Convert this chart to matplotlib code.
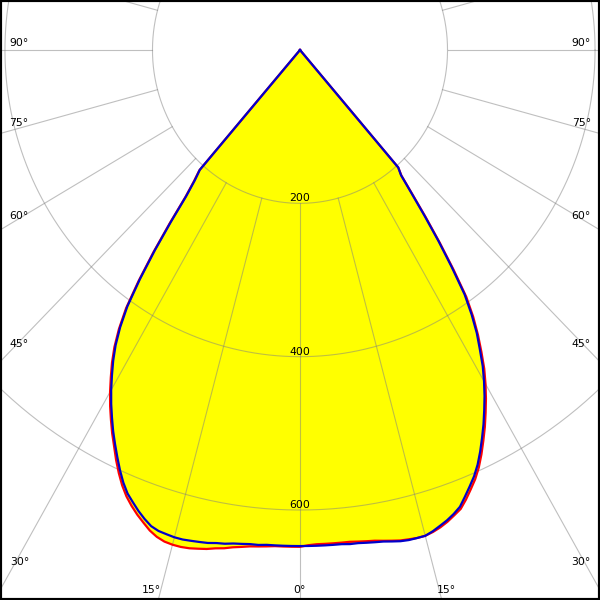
import numpy as np
import matplotlib
matplotlib.use('Agg')
import matplotlib.pyplot as plt

# polar light distribution, intensities in cd, angle measured from straight down
angles = [0, 1, 2, 3, 4, 5, 6, 7, 8, 9, 10, 11, 12, 13, 14, 15, 16, 17, 18, 19, 20,
          21, 22, 23, 24, 25, 26, 27, 28, 29, 30, 31, 32, 33, 34, 35, 36, 37, 38, 39,
          40, 41, 42]

# C0 - C180 plane (red)
c180 = [648, 648, 648, 648, 649, 650, 651, 653, 655, 658, 660, 663, 665, 667, 668, 668,
        667, 664, 659, 652, 645, 637, 628, 617, 604, 590, 575, 561, 546, 531, 515, 498,
        481, 462, 439, 411, 372, 330, 287, 247, 224, 208, 0]
c0 = [646, 646, 645, 645, 645, 645, 645, 646, 647, 648, 650, 652, 654, 655, 656, 656,
      654, 651, 647, 642, 637, 628, 618, 608, 596, 582, 567, 552, 536, 520, 503, 485,
      464, 443, 420, 393, 354, 315, 277, 242, 214, 203, 0]

# C90 - C270 plane (blue)
c270 = [647, 647, 647, 647, 647, 648, 648, 649, 650, 652, 653, 655, 656, 657, 658, 658,
        657, 656, 653, 647, 640, 632, 624, 613, 600, 586, 572, 558, 543, 528, 512, 495,
        478, 459, 436, 408, 369, 327, 284, 245, 222, 207, 0]
c90 = [647, 647, 647, 647, 647, 647, 648, 648, 649, 650, 651, 653, 655, 656, 656, 656,
       653, 649, 645, 640, 634, 624, 614, 604, 592, 578, 563, 548, 532, 516, 499, 481,
       460, 440, 416, 389, 350, 312, 274, 240, 213, 203, 0]

rings = [200, 400, 600]
ray_angles = [0, 15, 30, 45, 60, 75, 90, 105, 120, 135, 150, 165, 180,
              195, 210, 225, 240, 255, 270, 285, 300, 315, 330, 345]

# angle labels: text, pixel x, pixel baseline y, alignment
angle_labels = [('90°', 9, 46, 'left'), ('75°', 9, 126, 'left'), ('60°', 9, 219, 'left'),
                ('45°', 9, 347, 'left'), ('30°', 10, 565, 'left'),
                ('90°', 591, 46, 'right'), ('75°', 591, 126, 'right'), ('60°', 591, 219, 'right'),
                ('45°', 591, 347, 'right'), ('30°', 590, 565, 'right'),
                ('15°', 161, 593, 'right'), ('0°', 299, 593, 'center'), ('15°', 437, 593, 'left')]

# pixels per cd (the original is slightly squeezed horizontally)
sx = 0.7376
sy = 0.7667
cx, cy = 300, 50


def outline(left, right):
    th = np.radians(angles)
    left = np.array(left, dtype=float)
    right = np.array(right, dtype=float)
    xl = -left * np.sin(th)
    yl = -left * np.cos(th)
    xr = right * np.sin(th)
    yr = -right * np.cos(th)
    x = np.concatenate([xl[::-1], xr[1:]])
    y = np.concatenate([yl[::-1], yr[1:]])
    return x, y


fig = plt.figure(figsize=(6, 6), dpi=100)
ax = fig.add_axes([0, 0, 1, 1])
ax.set_xlim(-cx / sx, (600 - cx) / sx)
ax.set_ylim(-(600 - cy) / sy, cy / sy)
ax.set_xticks([])
ax.set_yticks([])
for s in ax.spines.values():
    s.set_color('black')
    s.set_linewidth(3)

red_x, red_y = outline(c180, c0)
blue_x, blue_y = outline(c270, c90)
ax.fill(red_x, red_y, color='#ffff00', lw=0, zorder=1)
ax.fill(blue_x, blue_y, color='#ffff00', lw=0, zorder=1)

# grid
t = np.linspace(0, 2 * np.pi, 500)
for r in rings:
    ax.plot(r * np.cos(t), r * np.sin(t), color='#808080', alpha=0.5, lw=0.8, zorder=2)
    ax.annotate(str(r), (0, -r), xytext=(0, 2), textcoords='offset pixels',
                ha='center', va='baseline', fontsize=7.8, zorder=5)
for a in ray_angles:
    th = np.radians(a)
    ax.plot([200 * np.sin(th), 1500 * np.sin(th)], [-200 * np.cos(th), -1500 * np.cos(th)],
            color='#808080', alpha=0.5, lw=0.8, zorder=2)

ax.plot(red_x, red_y, color='#ff0000', lw=1.6, zorder=3)
ax.plot(blue_x, blue_y, color='#0000cc', lw=1.6, zorder=4)

for txt, px, py, ha in angle_labels:
    fig.text(px / 600, 1 - py / 600, txt, ha=ha, va='baseline', fontsize=7.8)

fig.savefig('out.png', dpi=100)
